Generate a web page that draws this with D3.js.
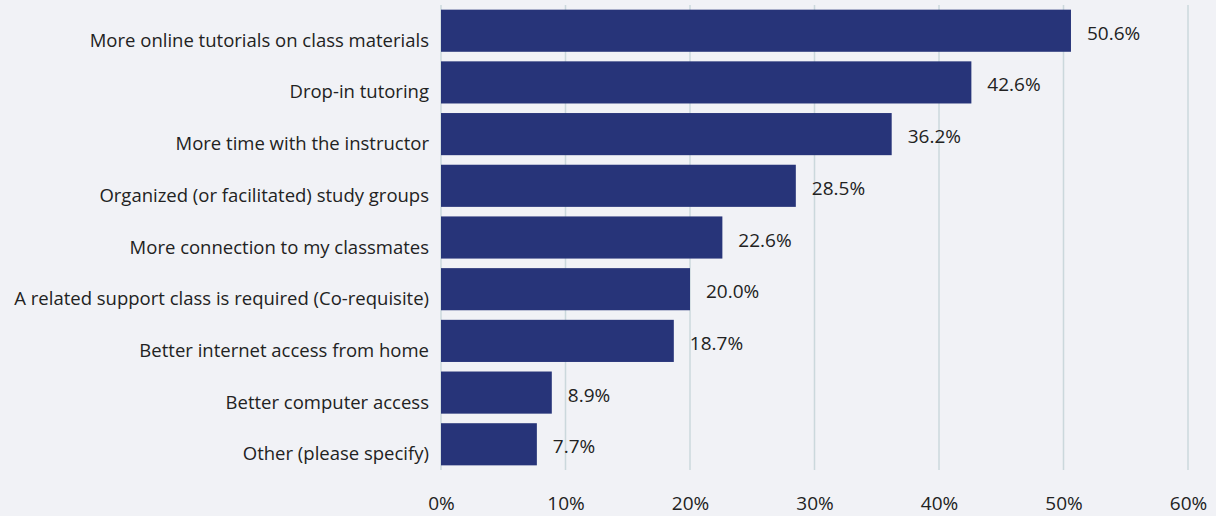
<!DOCTYPE html>
<html>
<head>
<meta charset="utf-8">
<script src="https://cdn.jsdelivr.net/npm/d3@7"></script>
<style>
  html, body { margin: 0; padding: 0; background: #f1f2f6; }
  text { font-family: "Open Sans", Lato, sans-serif; fill: #222; }
</style>
</head>
<body>
<div id="chart"></div>
<script>
// survey answers, top to bottom
var categories = [
    "More online tutorials on class materials",
    "Drop-in tutoring",
    "More time with the instructor",
    "Organized (or facilitated) study groups",
    "More connection to my classmates",
    "A related support class is required (Co-requisite)",
    "Better internet access from home",
    "Better computer access",
    "Other (please specify)"
];
var values = [50.6, 42.6, 36.2, 28.5, 22.6, 20.0, 18.7, 8.9, 7.7];
var tickValues = [0, 10, 20, 30, 40, 50, 60];

var W = 1216, H = 516;
var margin = {top: 5, right: 28, bottom: 46, left: 441};
var width = W - margin.left - margin.right,
    height = H - margin.top - margin.bottom;

var svg = d3.select("#chart").append("svg")
    .attr("width", W)
    .attr("height", H)
  .append("g")
    .attr("transform", "translate(" + margin.left + "," + margin.top + ")");

var x = d3.scaleLinear().domain([0, 60]).range([0, width]);
var y = d3.scaleBand().domain(categories).range([0, height]).paddingInner(0.185).paddingOuter(0.09);

// vertical gridlines
svg.selectAll("line.grid")
    .data(tickValues)
  .enter().append("line")
    .attr("class", "grid")
    .attr("x1", function(d) { return x(d); })
    .attr("x2", function(d) { return x(d); })
    .attr("y1", 0)
    .attr("y2", height)
    .attr("stroke", "#cbd8dc")
    .attr("stroke-width", 1.5);

// bars
svg.selectAll("rect.bar")
    .data(values)
  .enter().append("rect")
    .attr("class", "bar")
    .attr("x", x(0))
    .attr("y", function(d, i) { return y(categories[i]); })
    .attr("width", function(d) { return x(d) - x(0); })
    .attr("height", y.bandwidth())
    .attr("fill", "#273479");

// value labels
svg.selectAll("text.val")
    .data(values)
  .enter().append("text")
    .attr("class", "val")
    .attr("x", function(d) { return x(d) + 16; })
    .attr("y", function(d, i) { return y(categories[i]) + y.bandwidth() / 2 + 9; })
    .style("font-size", "19px")
    .text(function(d) { return d.toFixed(1) + "%"; });

// category labels
var yAxis = svg.append("g")
    .call(d3.axisLeft(y).tickSize(0).tickPadding(12));
yAxis.select(".domain").remove();
yAxis.selectAll("text")
    .attr("dy", "16px")
    .attr("dominant-baseline", "auto")
    .style("font-size", "18.5px")
    .style("fill", "#222");

// x axis labels
var xAxis = svg.append("g")
    .attr("transform", "translate(0," + height + ")")
    .call(d3.axisBottom(x).tickValues(tickValues).tickSize(0).tickPadding(0)
        .tickFormat(function(d) { return d + "%"; }));
xAxis.select(".domain").remove();
xAxis.selectAll("text")
    .attr("dy", "40px")
    .style("font-size", "19px")
    .style("fill", "#222");
</script>
</body>
</html>
